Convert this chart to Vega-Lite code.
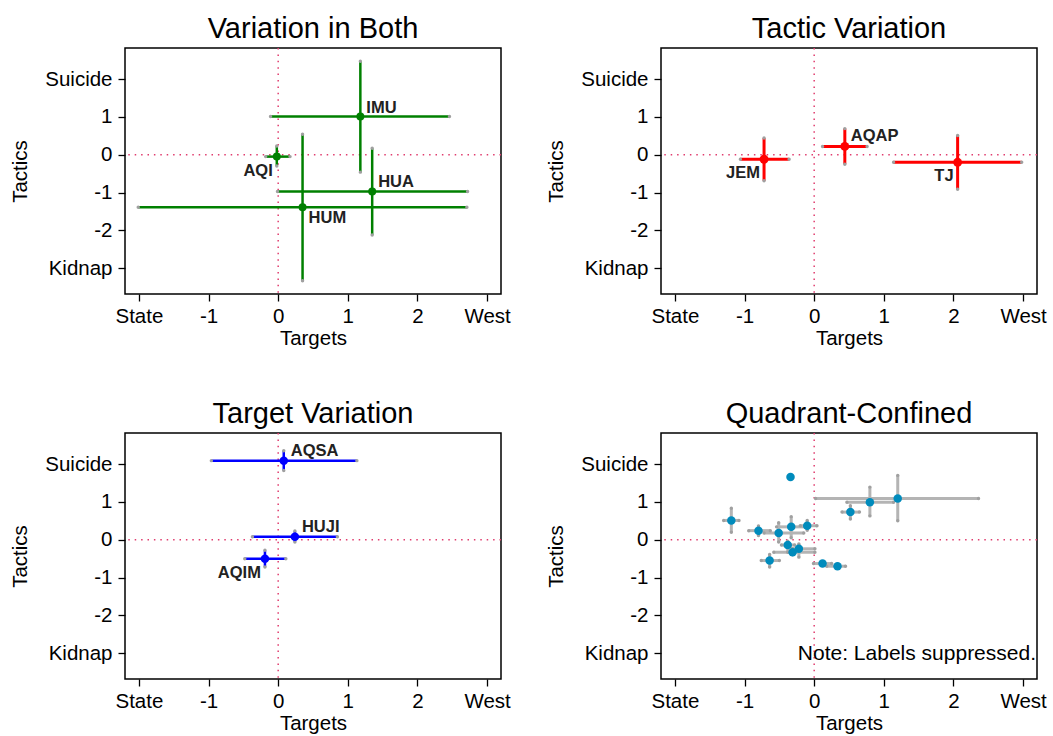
{
  "$schema": "https://vega.github.io/schema/vega-lite/v6.json",
  "background": "white",
  "padding": {"left": 10, "top": 14, "right": 5, "bottom": 5},
  "columns": 2,
  "spacing": {"row": 139, "column": 160},
  "bounds": "flush",
  "datasets": {
    "both": [
      {"name": "IMU", "x": 1.18, "y": 1.01, "xlo": -0.11, "xhi": 2.46, "ylo": -0.46, "yhi": 2.47},
      {"name": "AQI", "x": -0.02, "y": -0.05, "xlo": -0.18, "xhi": 0.17, "ylo": -0.30, "yhi": 0.23},
      {"name": "HUA", "x": 1.35, "y": -0.97, "xlo": -0.01, "xhi": 2.72, "ylo": -2.12, "yhi": 0.17},
      {"name": "HUM", "x": 0.35, "y": -1.39, "xlo": -2.01, "xhi": 2.71, "ylo": -3.33, "yhi": 0.54}
    ],
    "tactic": [
      {"name": "JEM", "x": -0.72, "y": -0.12, "xlo": -1.06, "xhi": -0.36, "ylo": -0.69, "yhi": 0.44},
      {"name": "AQAP", "x": 0.44, "y": 0.22, "xlo": 0.12, "xhi": 0.76, "ylo": -0.25, "yhi": 0.69},
      {"name": "TJ", "x": 2.06, "y": -0.20, "xlo": 1.14, "xhi": 2.98, "ylo": -0.91, "yhi": 0.51}
    ],
    "target": [
      {"name": "AQSA", "x": 0.08, "y": 2.09, "xlo": -0.96, "xhi": 1.13, "ylo": 1.83, "yhi": 2.35},
      {"name": "HUJI", "x": 0.24, "y": 0.08, "xlo": -0.37, "xhi": 0.85, "ylo": -0.06, "yhi": 0.23},
      {"name": "AQIM", "x": -0.19, "y": -0.50, "xlo": -0.48, "xhi": 0.11, "ylo": -0.72, "yhi": -0.28}
    ],
    "quad": [
      {"id": 1, "x": -0.34, "y": 1.66, "xlo": -0.37, "xhi": -0.31, "ylo": 1.62, "yhi": 1.70},
      {"id": 2, "x": -1.19, "y": 0.51, "xlo": -1.30, "xhi": -1.08, "ylo": 0.20, "yhi": 0.83},
      {"id": 3, "x": -0.80, "y": 0.24, "xlo": -0.94, "xhi": -0.63, "ylo": 0.11, "yhi": 0.36},
      {"id": 4, "x": -0.51, "y": 0.18, "xlo": -0.72, "xhi": -0.15, "ylo": -0.06, "yhi": 0.45},
      {"id": 5, "x": -0.33, "y": 0.34, "xlo": -0.54, "xhi": -0.13, "ylo": 0.05, "yhi": 0.61},
      {"id": 6, "x": -0.10, "y": 0.37, "xlo": -0.20, "xhi": 0.04, "ylo": 0.25, "yhi": 0.51},
      {"id": 7, "x": -0.38, "y": -0.14, "xlo": -0.47, "xhi": -0.28, "ylo": -0.33, "yhi": -0.04},
      {"id": 8, "x": -0.22, "y": -0.24, "xlo": -0.32, "xhi": 0.01, "ylo": -0.46, "yhi": -0.11},
      {"id": 9, "x": -0.31, "y": -0.33, "xlo": -0.58, "xhi": 0.01, "ylo": -0.40, "yhi": -0.24},
      {"id": 10, "x": -0.64, "y": -0.55, "xlo": -0.76, "xhi": -0.50, "ylo": -0.72, "yhi": -0.39},
      {"id": 11, "x": 0.12, "y": -0.63, "xlo": -0.01, "xhi": 0.25, "ylo": -0.68, "yhi": -0.58},
      {"id": 12, "x": 0.335, "y": -0.70, "xlo": 0.18, "xhi": 0.45, "ylo": -0.75, "yhi": -0.65},
      {"id": 13, "x": 0.52, "y": 0.73, "xlo": 0.40, "xhi": 0.65, "ylo": 0.55, "yhi": 0.90},
      {"id": 14, "x": 0.80, "y": 0.99, "xlo": 0.47, "xhi": 1.14, "ylo": 0.63, "yhi": 1.39},
      {"id": 15, "x": 1.20, "y": 1.09, "xlo": 0.02, "xhi": 2.36, "ylo": 0.50, "yhi": 1.70}
    ]
  },
  "concat": [
    {
      "title": "Variation in Both",
      "width": 376, "height": 246,
      "data": {"name": "both"},
      "layer": [
        {"data": {"values": [{"v": 0}]}, "mark": {"type": "rule", "stroke": "#e03c6e", "strokeWidth": 1.5, "strokeDash": [1.5, 4.9]},
         "encoding": {"x": {"field": "v", "type": "quantitative", "scale": {"domain": [-2.2, 3.2], "nice": false, "zero": false}, "title": "Targets", "axis": {"values": [-2, -1, 0, 1, 2, 3], "labelExpr": "datum.value == -2 ? 'State' : datum.value == 3 ? 'West' : toString(datum.value)"}}}},
        {"data": {"values": [{"v": 0}]}, "mark": {"type": "rule", "stroke": "#e03c6e", "strokeWidth": 1.5, "strokeDash": [1.5, 4.9]},
         "encoding": {"y": {"field": "v", "type": "quantitative", "scale": {"domain": [-3.68, 2.82], "nice": false, "zero": false}, "title": "Tactics", "axis": {"values": [-3, -2, -1, 0, 1, 2], "labelExpr": "datum.value == -3 ? 'Kidnap' : datum.value == 2 ? 'Suicide' : toString(datum.value)"}}}},
        {"mark": {"type": "rule", "stroke": "#008000", "strokeWidth": 2.5},
         "encoding": {"x": {"field": "xlo", "type": "quantitative", "title": "Targets"}, "x2": {"field": "xhi"}, "y": {"field": "y", "type": "quantitative", "title": "Tactics"}}},
        {"mark": {"type": "rule", "stroke": "#008000", "strokeWidth": 2.5},
         "encoding": {"y": {"field": "ylo", "type": "quantitative", "title": "Tactics"}, "y2": {"field": "yhi"}, "x": {"field": "x", "type": "quantitative", "title": "Targets"}}},
        {"transform": [{"fold": ["xlo", "xhi"], "as": ["k", "v"]}], "mark": {"type": "point", "filled": true, "color": "#a0a0a0", "size": 12, "opacity": 1},
         "encoding": {"x": {"field": "v", "type": "quantitative", "title": "Targets"}, "y": {"field": "y", "type": "quantitative", "title": "Tactics"}}},
        {"transform": [{"fold": ["ylo", "yhi"], "as": ["k", "v"]}], "mark": {"type": "point", "filled": true, "color": "#a0a0a0", "size": 12, "opacity": 1},
         "encoding": {"x": {"field": "x", "type": "quantitative", "title": "Targets"}, "y": {"field": "v", "type": "quantitative", "title": "Tactics"}}},
        {"mark": {"type": "point", "filled": true, "color": "#008000", "size": 64, "opacity": 1},
         "encoding": {"x": {"field": "x", "type": "quantitative", "title": "Targets"}, "y": {"field": "y", "type": "quantitative", "title": "Tactics"}}},
        {"transform": [{"filter": {"field": "name", "oneOf": ["IMU", "HUA"]}}], "mark": {"type": "text", "align": "left", "baseline": "middle", "dx": 6, "dy": -9, "fontSize": 16.5, "fontWeight": "bold", "color": "#222222"},
         "encoding": {"x": {"field": "x", "type": "quantitative", "title": "Targets"}, "y": {"field": "y", "type": "quantitative", "title": "Tactics"}, "text": {"field": "name"}}},
        {"transform": [{"filter": {"field": "name", "oneOf": ["HUM"]}}], "mark": {"type": "text", "align": "left", "baseline": "middle", "dx": 6, "dy": 11, "fontSize": 16.5, "fontWeight": "bold", "color": "#222222"},
         "encoding": {"x": {"field": "x", "type": "quantitative", "title": "Targets"}, "y": {"field": "y", "type": "quantitative", "title": "Tactics"}, "text": {"field": "name"}}},
        {"transform": [{"filter": {"field": "name", "oneOf": ["AQI"]}}], "mark": {"type": "text", "align": "right", "baseline": "middle", "dx": -4, "dy": 14, "fontSize": 16.5, "fontWeight": "bold", "color": "#222222"},
         "encoding": {"x": {"field": "x", "type": "quantitative", "title": "Targets"}, "y": {"field": "y", "type": "quantitative", "title": "Tactics"}, "text": {"field": "name"}}}
      ]
    },
    {
      "title": "Tactic Variation",
      "width": 376, "height": 246,
      "data": {"name": "tactic"},
      "layer": [
        {"data": {"values": [{"v": 0}]}, "mark": {"type": "rule", "stroke": "#e03c6e", "strokeWidth": 1.5, "strokeDash": [1.5, 4.9]},
         "encoding": {"x": {"field": "v", "type": "quantitative", "scale": {"domain": [-2.2, 3.2], "nice": false, "zero": false}, "title": "Targets", "axis": {"values": [-2, -1, 0, 1, 2, 3], "labelExpr": "datum.value == -2 ? 'State' : datum.value == 3 ? 'West' : toString(datum.value)"}}}},
        {"data": {"values": [{"v": 0}]}, "mark": {"type": "rule", "stroke": "#e03c6e", "strokeWidth": 1.5, "strokeDash": [1.5, 4.9]},
         "encoding": {"y": {"field": "v", "type": "quantitative", "scale": {"domain": [-3.68, 2.82], "nice": false, "zero": false}, "title": "Tactics", "axis": {"values": [-3, -2, -1, 0, 1, 2], "labelExpr": "datum.value == -3 ? 'Kidnap' : datum.value == 2 ? 'Suicide' : toString(datum.value)"}}}},
        {"mark": {"type": "rule", "stroke": "#ff0000", "strokeWidth": 3},
         "encoding": {"x": {"field": "xlo", "type": "quantitative", "title": "Targets"}, "x2": {"field": "xhi"}, "y": {"field": "y", "type": "quantitative", "title": "Tactics"}}},
        {"mark": {"type": "rule", "stroke": "#ff0000", "strokeWidth": 3},
         "encoding": {"y": {"field": "ylo", "type": "quantitative", "title": "Tactics"}, "y2": {"field": "yhi"}, "x": {"field": "x", "type": "quantitative", "title": "Targets"}}},
        {"transform": [{"fold": ["xlo", "xhi"], "as": ["k", "v"]}], "mark": {"type": "point", "filled": true, "color": "#a0a0a0", "size": 12, "opacity": 1},
         "encoding": {"x": {"field": "v", "type": "quantitative", "title": "Targets"}, "y": {"field": "y", "type": "quantitative", "title": "Tactics"}}},
        {"transform": [{"fold": ["ylo", "yhi"], "as": ["k", "v"]}], "mark": {"type": "point", "filled": true, "color": "#a0a0a0", "size": 12, "opacity": 1},
         "encoding": {"x": {"field": "x", "type": "quantitative", "title": "Targets"}, "y": {"field": "v", "type": "quantitative", "title": "Tactics"}}},
        {"mark": {"type": "point", "filled": true, "color": "#ff0000", "size": 80, "opacity": 1},
         "encoding": {"x": {"field": "x", "type": "quantitative", "title": "Targets"}, "y": {"field": "y", "type": "quantitative", "title": "Tactics"}}},
        {"transform": [{"filter": {"field": "name", "oneOf": ["AQAP"]}}], "mark": {"type": "text", "align": "left", "baseline": "middle", "dx": 6, "dy": -10, "fontSize": 16.5, "fontWeight": "bold", "color": "#222222"},
         "encoding": {"x": {"field": "x", "type": "quantitative", "title": "Targets"}, "y": {"field": "y", "type": "quantitative", "title": "Tactics"}, "text": {"field": "name"}}},
        {"transform": [{"filter": {"field": "name", "oneOf": ["JEM", "TJ"]}}], "mark": {"type": "text", "align": "right", "baseline": "middle", "dx": -4, "dy": 14, "fontSize": 16.5, "fontWeight": "bold", "color": "#222222"},
         "encoding": {"x": {"field": "x", "type": "quantitative", "title": "Targets"}, "y": {"field": "y", "type": "quantitative", "title": "Tactics"}, "text": {"field": "name"}}}
      ]
    },
    {
      "title": "Target Variation",
      "width": 376, "height": 246,
      "data": {"name": "target"},
      "layer": [
        {"data": {"values": [{"v": 0}]}, "mark": {"type": "rule", "stroke": "#e03c6e", "strokeWidth": 1.5, "strokeDash": [1.5, 4.9]},
         "encoding": {"x": {"field": "v", "type": "quantitative", "scale": {"domain": [-2.2, 3.2], "nice": false, "zero": false}, "title": "Targets", "axis": {"values": [-2, -1, 0, 1, 2, 3], "labelExpr": "datum.value == -2 ? 'State' : datum.value == 3 ? 'West' : toString(datum.value)"}}}},
        {"data": {"values": [{"v": 0}]}, "mark": {"type": "rule", "stroke": "#e03c6e", "strokeWidth": 1.5, "strokeDash": [1.5, 4.9]},
         "encoding": {"y": {"field": "v", "type": "quantitative", "scale": {"domain": [-3.68, 2.82], "nice": false, "zero": false}, "title": "Tactics", "axis": {"values": [-3, -2, -1, 0, 1, 2], "labelExpr": "datum.value == -3 ? 'Kidnap' : datum.value == 2 ? 'Suicide' : toString(datum.value)"}}}},
        {"mark": {"type": "rule", "stroke": "#0000ff", "strokeWidth": 2.5},
         "encoding": {"x": {"field": "xlo", "type": "quantitative", "title": "Targets"}, "x2": {"field": "xhi"}, "y": {"field": "y", "type": "quantitative", "title": "Tactics"}}},
        {"mark": {"type": "rule", "stroke": "#0000ff", "strokeWidth": 2.5},
         "encoding": {"y": {"field": "ylo", "type": "quantitative", "title": "Tactics"}, "y2": {"field": "yhi"}, "x": {"field": "x", "type": "quantitative", "title": "Targets"}}},
        {"transform": [{"fold": ["xlo", "xhi"], "as": ["k", "v"]}], "mark": {"type": "point", "filled": true, "color": "#a0a0a0", "size": 12, "opacity": 1},
         "encoding": {"x": {"field": "v", "type": "quantitative", "title": "Targets"}, "y": {"field": "y", "type": "quantitative", "title": "Tactics"}}},
        {"transform": [{"fold": ["ylo", "yhi"], "as": ["k", "v"]}], "mark": {"type": "point", "filled": true, "color": "#a0a0a0", "size": 12, "opacity": 1},
         "encoding": {"x": {"field": "x", "type": "quantitative", "title": "Targets"}, "y": {"field": "v", "type": "quantitative", "title": "Tactics"}}},
        {"mark": {"type": "point", "filled": true, "color": "#0000ff", "size": 72, "opacity": 1},
         "encoding": {"x": {"field": "x", "type": "quantitative", "title": "Targets"}, "y": {"field": "y", "type": "quantitative", "title": "Tactics"}}},
        {"transform": [{"filter": {"field": "name", "oneOf": ["AQSA", "HUJI"]}}], "mark": {"type": "text", "align": "left", "baseline": "middle", "dx": 7, "dy": -10, "fontSize": 16.5, "fontWeight": "bold", "color": "#222222"},
         "encoding": {"x": {"field": "x", "type": "quantitative", "title": "Targets"}, "y": {"field": "y", "type": "quantitative", "title": "Tactics"}, "text": {"field": "name"}}},
        {"transform": [{"filter": {"field": "name", "oneOf": ["AQIM"]}}], "mark": {"type": "text", "align": "right", "baseline": "middle", "dx": -4, "dy": 14, "fontSize": 16.5, "fontWeight": "bold", "color": "#222222"},
         "encoding": {"x": {"field": "x", "type": "quantitative", "title": "Targets"}, "y": {"field": "y", "type": "quantitative", "title": "Tactics"}, "text": {"field": "name"}}}
      ]
    },
    {
      "title": "Quadrant-Confined",
      "width": 376, "height": 246,
      "data": {"name": "quad"},
      "layer": [
        {"data": {"values": [{"v": 0}]}, "mark": {"type": "rule", "stroke": "#e03c6e", "strokeWidth": 1.5, "strokeDash": [1.5, 4.9]},
         "encoding": {"x": {"field": "v", "type": "quantitative", "scale": {"domain": [-2.2, 3.2], "nice": false, "zero": false}, "title": "Targets", "axis": {"values": [-2, -1, 0, 1, 2, 3], "labelExpr": "datum.value == -2 ? 'State' : datum.value == 3 ? 'West' : toString(datum.value)"}}}},
        {"data": {"values": [{"v": 0}]}, "mark": {"type": "rule", "stroke": "#e03c6e", "strokeWidth": 1.5, "strokeDash": [1.5, 4.9]},
         "encoding": {"y": {"field": "v", "type": "quantitative", "scale": {"domain": [-3.68, 2.82], "nice": false, "zero": false}, "title": "Tactics", "axis": {"values": [-3, -2, -1, 0, 1, 2], "labelExpr": "datum.value == -3 ? 'Kidnap' : datum.value == 2 ? 'Suicide' : toString(datum.value)"}}}},
        {"mark": {"type": "rule", "stroke": "#b4b4b4", "strokeWidth": 3},
         "encoding": {"x": {"field": "xlo", "type": "quantitative", "title": "Targets"}, "x2": {"field": "xhi"}, "y": {"field": "y", "type": "quantitative", "title": "Tactics"}}},
        {"mark": {"type": "rule", "stroke": "#b4b4b4", "strokeWidth": 3},
         "encoding": {"y": {"field": "ylo", "type": "quantitative", "title": "Tactics"}, "y2": {"field": "yhi"}, "x": {"field": "x", "type": "quantitative", "title": "Targets"}}},
        {"transform": [{"fold": ["xlo", "xhi"], "as": ["k", "v"]}], "mark": {"type": "point", "filled": true, "color": "#a0a0a0", "size": 12, "opacity": 1},
         "encoding": {"x": {"field": "v", "type": "quantitative", "title": "Targets"}, "y": {"field": "y", "type": "quantitative", "title": "Tactics"}}},
        {"transform": [{"fold": ["ylo", "yhi"], "as": ["k", "v"]}], "mark": {"type": "point", "filled": true, "color": "#a0a0a0", "size": 12, "opacity": 1},
         "encoding": {"x": {"field": "x", "type": "quantitative", "title": "Targets"}, "y": {"field": "v", "type": "quantitative", "title": "Tactics"}}},
        {"mark": {"type": "point", "filled": true, "color": "#008bbc", "size": 72, "opacity": 1},
         "encoding": {"x": {"field": "x", "type": "quantitative", "title": "Targets"}, "y": {"field": "y", "type": "quantitative", "title": "Tactics"}}},
        {"data": {"values": [{}]}, "mark": {"type": "text", "align": "right", "baseline": "middle", "dx": -1, "dy": 1, "fontSize": 21, "color": "black", "text": "Note: Labels suppressed."},
         "encoding": {"x": {"value": "width"}, "y": {"datum": -3, "type": "quantitative", "title": "Tactics"}}}
      ]
    }
  ],
  "config": {
    "font": "Liberation Sans",
    "view": {"stroke": "black", "strokeWidth": 1.5},
    "axis": {"domain": false, "grid": false, "ticks": true, "tickSize": 7, "tickColor": "black", "tickWidth": 1.3, "labelFontSize": 20.5, "labelColor": "black", "labelFont": "Liberation Sans", "labelOverlap": false, "labelBound": false, "labelFlush": false, "titleFontSize": 20.5, "titleFontWeight": "normal", "titleColor": "black", "titleFont": "Liberation Sans"},
    "axisY": {"labelAngle": 0, "labelPadding": 6, "titlePadding": 14},
    "axisX": {"labelPadding": 5, "titlePadding": 2},
    "title": {"fontSize": 29, "fontWeight": "normal", "font": "Liberation Sans", "color": "black", "anchor": "middle", "frame": "group", "offset": 3}
  }
}
